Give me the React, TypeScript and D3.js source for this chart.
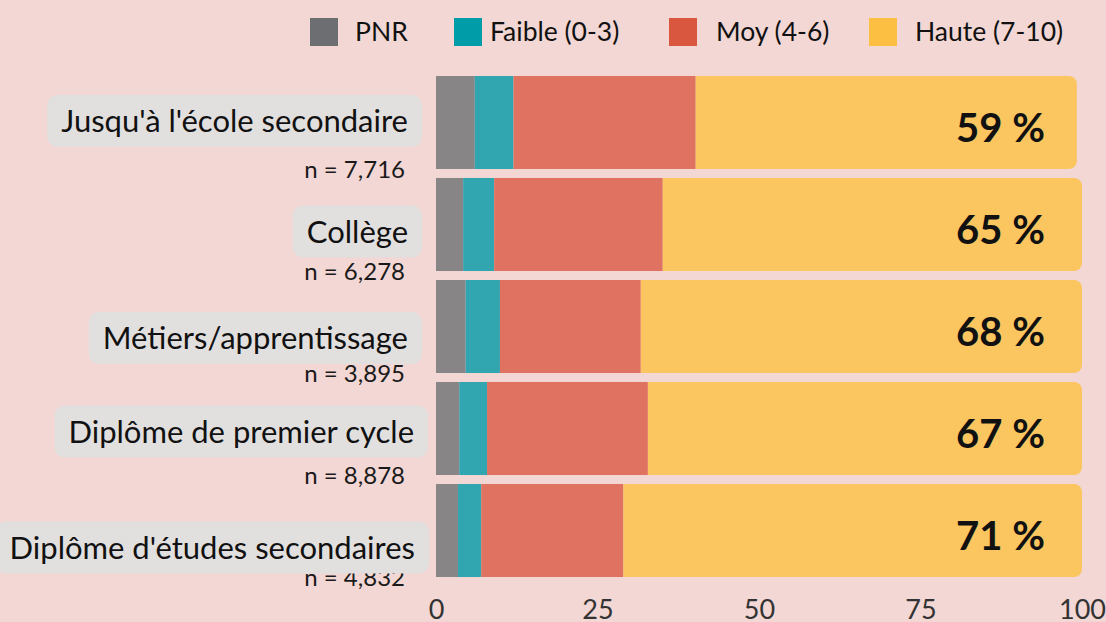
import { useEffect, useRef } from 'react'
import * as d3 from 'd3'

// ─── Data ────────────────────────────────────────────────────────────────────

const categories = [
  "Jusqu'à l'école secondaire",
  'Collège',
  'Métiers/apprentissage',
  'Diplôme de premier cycle',
  "Diplôme d'études secondaires",
]
const sampleSizes = ['7,716', '6,278', '3,895', '8,878', '4,832']

const seriesKeys = ['PNR', 'Faible (0-3)', 'Moy (4-6)', 'Haute (7-10)']
const pnr = [6.0, 4.2, 4.6, 3.6, 3.4]
const faible = [6.0, 4.8, 5.3, 4.3, 3.6]
const moy = [28.2, 26.1, 21.8, 24.9, 22.0]
const haute = [59.0, 64.9, 68.3, 67.2, 71.0]
const hauteLabels = ['59 %', '65 %', '68 %', '67 %', '71 %']

const xTicks = [0, 25, 50, 75, 100]

// ─── Look ────────────────────────────────────────────────────────────────────

const W = 1106
const H = 622
const BG = '#f2d7d4'
const barColors = ['#878586', '#31a5b0', '#e07262', '#fbc560']
const legendColors = ['#6d6e71', '#009ca8', '#d9573f', '#fdbf41']
const FONT = 'Lato, "Noto Sans", sans-serif'

// label boxes are nudged a little off the bar centres in the original
const labelNudge = [-1.5, 7, 11.5, 3, 17]
const labelRight = [408, 408, 408, 414, 415]

export default function App() {
  const ref = useRef<SVGSVGElement>(null)

  useEffect(() => {
    if (!ref.current) return
    const svg = d3.select(ref.current)
    svg.selectAll('*').remove()
    svg.style('font-family', FONT)

    svg.append('rect').attr('width', W).attr('height', H).attr('fill', BG)

    const x = d3.scaleLinear().domain([0, 100]).range([436, 1082])
    const y = d3
      .scaleBand<string>()
      .domain(categories)
      .range([71.5, 581.5])
      .paddingInner(0.088)
      .paddingOuter(0.044)

    const series = [pnr, faible, moy, haute]

    // ─── Bars ──────────────────────────────────────────────────────────────
    categories.forEach((cat, i) => {
      const y0 = y(cat)!
      const bh = y.bandwidth()
      let acc = 0
      series.forEach((vals, k) => {
        const x0 = x(acc)
        const x1 = x(acc + vals[i])
        acc += vals[i]
        if (k === series.length - 1) {
          // last segment gets rounded right corners
          const r = 8
          const p = d3.path()
          p.moveTo(x0, y0)
          p.lineTo(x1 - r, y0)
          p.arcTo(x1, y0, x1, y0 + r, r)
          p.lineTo(x1, y0 + bh - r)
          p.arcTo(x1, y0 + bh, x1 - r, y0 + bh, r)
          p.lineTo(x0, y0 + bh)
          p.closePath()
          svg.append('path').attr('d', p.toString()).attr('fill', barColors[k])
        } else {
          svg.append('rect')
            .attr('x', x0)
            .attr('y', y0)
            .attr('width', x1 - x0)
            .attr('height', bh)
            .attr('fill', barColors[k])
        }
      })

      svg.append('text')
        .attr('x', 1045)
        .attr('y', y0 + bh / 2 + 19)
        .attr('text-anchor', 'end')
        .attr('font-size', 40)
        .attr('font-weight', 700)
        .attr('fill', '#111')
        .text(hauteLabels[i])
    })

    // ─── Sample sizes (drawn under the label boxes) ────────────────────────
    categories.forEach((cat, i) => {
      svg.append('text')
        .attr('x', 405)
        .attr('y', y(cat)! + y.bandwidth() / 2 + 55)
        .attr('text-anchor', 'end')
        .attr('font-size', 24)
        .attr('fill', '#1a1a1a')
        .text(`n = ${sampleSizes[i]}`)
    })

    // ─── Category labels ───────────────────────────────────────────────────
    categories.forEach((cat, i) => {
      const cy = y(cat)! + y.bandwidth() / 2 + labelNudge[i]
      const g = svg.append('g')
      const box = g.append('rect')
      const t = g.append('text')
        .attr('x', labelRight[i])
        .attr('y', cy + 11)
        .attr('text-anchor', 'end')
        .attr('font-size', 31)
        .attr('fill', '#111')
        .text(cat)
      const bb = (t.node() as SVGTextElement).getBBox()
      box
        .attr('x', bb.x - 14)
        .attr('y', cy - 26)
        .attr('width', bb.width + 28)
        .attr('height', 52)
        .attr('rx', 10)
        .attr('fill', '#e2e0df')
    })

    // ─── X axis ────────────────────────────────────────────────────────────
    svg.append('g')
      .attr('transform', 'translate(0,619)')
      .call(d3.axisBottom(x).tickValues(xTicks).tickSize(0).tickPadding(0))
      .call((sel) => sel.select('.domain').remove())
      .call((sel) =>
        sel.selectAll('text')
          .attr('y', 0)
          .attr('dy', 0)
          .attr('font-size', 27)
          .attr('font-family', FONT)
          .attr('fill', '#333'),
      )

    // ─── Legend ────────────────────────────────────────────────────────────
    const legendSquareX = [310, 454, 669, 869]
    const legendTextX = [355, 490, 716, 915]
    seriesKeys.forEach((key, k) => {
      svg.append('rect')
        .attr('x', legendSquareX[k])
        .attr('y', 18)
        .attr('width', 28)
        .attr('height', 28)
        .attr('fill', legendColors[k])
      svg.append('text')
        .attr('x', legendTextX[k])
        .attr('y', 41)
        .attr('font-size', 26.5)
        .attr('fill', '#111')
        .text(key)
    })
  }, [])

  return (
    <div style={{ position: 'fixed', left: 0, top: 0 }}>
      <svg ref={ref} width={W} height={H} style={{ display: 'block' }} />
    </div>
  )
}
